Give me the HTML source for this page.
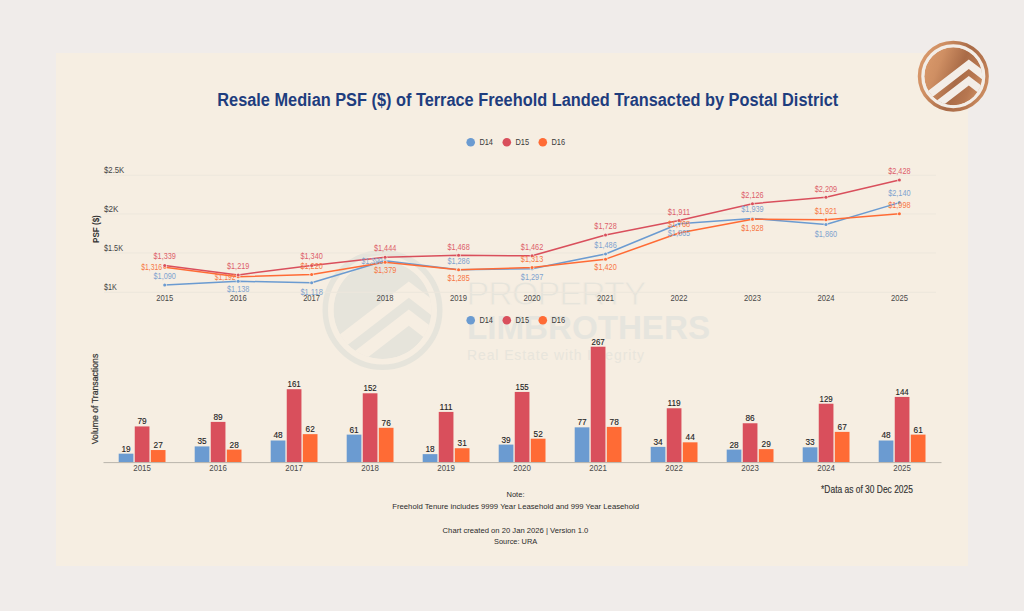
<!DOCTYPE html>
<html><head><meta charset="utf-8"><title>Resale Median PSF of Terrace Freehold Landed by Postal District</title>
<style>
html,body{margin:0;padding:0;background:#f0ecea;}
body{width:1024px;height:611px;overflow:hidden;font-family:"Liberation Sans",sans-serif;}
svg{display:block;}
svg text{font-family:"Liberation Sans",sans-serif;}
</style></head>
<body>
<svg width="1024" height="611" viewBox="0 0 1024 611">
<rect x="0" y="0" width="1024" height="611" fill="#f0ecea"/>
<rect x="56" y="53" width="912" height="513" fill="#f6eee2"/>
<g>
<circle cx="382.5" cy="310" r="57.25" fill="none" stroke="#e6e4db" stroke-width="5.5"/>
<clipPath id="wmc"><circle cx="382.5" cy="310" r="49"/></clipPath>
<g clip-path="url(#wmc)"><circle cx="382.5" cy="310" r="49" fill="#e6e4db"/>
<polygon fill="#f6eee2" points="307.1,359.8 408.8,281.5 510.5,359.8 510.5,376.1 408.8,297.8 307.1,376.1"/>
<polygon fill="#f6eee2" points="307.1,387.8 408.8,309.5 510.5,387.8 510.5,404.1 408.8,325.8 307.1,404.1"/>
</g>
<text x="466.5" y="305.4" font-size="34" fill="#e6e4db" stroke="#f6eee2" stroke-width="0.8" font-family="Liberation Sans, sans-serif" textLength="180" lengthAdjust="spacing">PROPERTY</text>
<text x="467" y="338.8" font-size="33.5" font-weight="bold" fill="#e6e5de" font-family="Liberation Sans, sans-serif" textLength="243" lengthAdjust="spacingAndGlyphs">LIMBROTHERS</text>
<text x="467" y="359.7" font-size="14" fill="#e8e5dc" font-family="Liberation Sans, sans-serif" textLength="177" lengthAdjust="spacing">Real Estate with Integrity</text>
</g>
<text x="527.8" y="105.9" font-size="17.6" font-weight="bold" fill="#1e3d7e" text-anchor="middle" font-family="Liberation Sans, sans-serif" textLength="621" lengthAdjust="spacingAndGlyphs">Resale Median PSF ($) of Terrace Freehold Landed Transacted by Postal District</text>
<circle cx="470.7" cy="142.2" r="4.3" fill="#6b9bd1"/>
<text x="479.40" y="144.68" font-size="8.6" fill="#3a3a3a" text-anchor="start" textLength="13.60" lengthAdjust="spacingAndGlyphs" font-family="Liberation Sans, sans-serif">D14</text>
<circle cx="506.8" cy="142.2" r="4.3" fill="#d94f5c"/>
<text x="515.50" y="144.68" font-size="8.6" fill="#3a3a3a" text-anchor="start" textLength="13.60" lengthAdjust="spacingAndGlyphs" font-family="Liberation Sans, sans-serif">D15</text>
<circle cx="542.8" cy="142.2" r="4.3" fill="#ff6b35"/>
<text x="551.50" y="144.68" font-size="8.6" fill="#3a3a3a" text-anchor="start" textLength="13.60" lengthAdjust="spacingAndGlyphs" font-family="Liberation Sans, sans-serif">D16</text>
<circle cx="470.7" cy="320.2" r="4.3" fill="#6b9bd1"/>
<text x="479.40" y="322.68" font-size="8.6" fill="#3a3a3a" text-anchor="start" textLength="13.60" lengthAdjust="spacingAndGlyphs" font-family="Liberation Sans, sans-serif">D14</text>
<circle cx="506.8" cy="320.2" r="4.3" fill="#d94f5c"/>
<text x="515.50" y="322.68" font-size="8.6" fill="#3a3a3a" text-anchor="start" textLength="13.60" lengthAdjust="spacingAndGlyphs" font-family="Liberation Sans, sans-serif">D15</text>
<circle cx="542.8" cy="320.2" r="4.3" fill="#ff6b35"/>
<text x="551.50" y="322.68" font-size="8.6" fill="#3a3a3a" text-anchor="start" textLength="13.60" lengthAdjust="spacingAndGlyphs" font-family="Liberation Sans, sans-serif">D16</text>
<line x1="104" x2="936" y1="175.20" y2="175.20" stroke="#ede7dc" stroke-width="1"/>
<text x="104.00" y="173.35" font-size="8.8" fill="#444" text-anchor="start" textLength="20.30" lengthAdjust="spacingAndGlyphs" font-family="Liberation Sans, sans-serif">$2.5K</text>
<line x1="104" x2="936" y1="214.00" y2="214.00" stroke="#ede7dc" stroke-width="1"/>
<text x="104.00" y="212.25" font-size="8.8" fill="#444" text-anchor="start" textLength="14.40" lengthAdjust="spacingAndGlyphs" font-family="Liberation Sans, sans-serif">$2K</text>
<line x1="104" x2="936" y1="253.00" y2="253.00" stroke="#ede7dc" stroke-width="1"/>
<text x="104.00" y="251.35" font-size="8.8" fill="#444" text-anchor="start" textLength="19.00" lengthAdjust="spacingAndGlyphs" font-family="Liberation Sans, sans-serif">$1.5K</text>
<line x1="104" x2="936" y1="292.30" y2="292.30" stroke="#ede7dc" stroke-width="1"/>
<text x="104.00" y="290.45" font-size="8.8" fill="#444" text-anchor="start" textLength="12.80" lengthAdjust="spacingAndGlyphs" font-family="Liberation Sans, sans-serif">$1K</text>
<text transform="translate(98.5,229.1) rotate(-90)" font-size="8.4" font-weight="bold" fill="#333" text-anchor="middle" font-family="Liberation Sans, sans-serif" textLength="27.8" lengthAdjust="spacingAndGlyphs">PSF ($)</text>
<text x="164.70" y="300.84" font-size="8.5" fill="#4a4a4a" text-anchor="middle" textLength="17.00" lengthAdjust="spacingAndGlyphs" font-family="Liberation Sans, sans-serif">2015</text>
<text x="238.17" y="300.84" font-size="8.5" fill="#4a4a4a" text-anchor="middle" textLength="17.00" lengthAdjust="spacingAndGlyphs" font-family="Liberation Sans, sans-serif">2016</text>
<text x="311.64" y="300.84" font-size="8.5" fill="#4a4a4a" text-anchor="middle" textLength="17.00" lengthAdjust="spacingAndGlyphs" font-family="Liberation Sans, sans-serif">2017</text>
<text x="385.11" y="300.84" font-size="8.5" fill="#4a4a4a" text-anchor="middle" textLength="17.00" lengthAdjust="spacingAndGlyphs" font-family="Liberation Sans, sans-serif">2018</text>
<text x="458.58" y="300.84" font-size="8.5" fill="#4a4a4a" text-anchor="middle" textLength="17.00" lengthAdjust="spacingAndGlyphs" font-family="Liberation Sans, sans-serif">2019</text>
<text x="532.05" y="300.84" font-size="8.5" fill="#4a4a4a" text-anchor="middle" textLength="17.00" lengthAdjust="spacingAndGlyphs" font-family="Liberation Sans, sans-serif">2020</text>
<text x="605.52" y="300.84" font-size="8.5" fill="#4a4a4a" text-anchor="middle" textLength="17.00" lengthAdjust="spacingAndGlyphs" font-family="Liberation Sans, sans-serif">2021</text>
<text x="678.99" y="300.84" font-size="8.5" fill="#4a4a4a" text-anchor="middle" textLength="17.00" lengthAdjust="spacingAndGlyphs" font-family="Liberation Sans, sans-serif">2022</text>
<text x="752.46" y="300.84" font-size="8.5" fill="#4a4a4a" text-anchor="middle" textLength="17.00" lengthAdjust="spacingAndGlyphs" font-family="Liberation Sans, sans-serif">2023</text>
<text x="825.93" y="300.84" font-size="8.5" fill="#4a4a4a" text-anchor="middle" textLength="17.00" lengthAdjust="spacingAndGlyphs" font-family="Liberation Sans, sans-serif">2024</text>
<text x="899.40" y="300.84" font-size="8.5" fill="#4a4a4a" text-anchor="middle" textLength="17.00" lengthAdjust="spacingAndGlyphs" font-family="Liberation Sans, sans-serif">2025</text>
<polyline points="164.70,285.04 238.17,281.27 311.64,282.84 385.11,260.78 458.58,269.65 532.05,268.79 605.52,253.95 678.99,223.81 752.46,218.39 825.93,224.59 899.40,202.61" fill="none" stroke="#6b9bd1" stroke-width="1.5" stroke-linejoin="round" stroke-linecap="round"/>
<polyline points="164.70,267.29 238.17,276.71 311.64,274.52 385.11,262.35 458.58,269.73 532.05,267.53 605.52,259.13 678.99,233.07 752.46,219.25 825.93,219.80 899.40,213.76" fill="none" stroke="#ff6b35" stroke-width="1.5" stroke-linejoin="round" stroke-linecap="round"/>
<polyline points="164.70,265.49 238.17,274.91 311.64,265.41 385.11,257.25 458.58,255.36 532.05,255.83 605.52,234.95 678.99,220.59 752.46,203.71 825.93,197.19 899.40,180.00" fill="none" stroke="#d94f5c" stroke-width="1.5" stroke-linejoin="round" stroke-linecap="round"/>
<circle cx="164.70" cy="285.04" r="2.3" fill="#f6eee2" opacity="0.8"/><circle cx="164.70" cy="285.04" r="1.5" fill="#6b9bd1"/>
<circle cx="238.17" cy="281.27" r="2.3" fill="#f6eee2" opacity="0.8"/><circle cx="238.17" cy="281.27" r="1.5" fill="#6b9bd1"/>
<circle cx="311.64" cy="282.84" r="2.3" fill="#f6eee2" opacity="0.8"/><circle cx="311.64" cy="282.84" r="1.5" fill="#6b9bd1"/>
<circle cx="385.11" cy="260.78" r="2.3" fill="#f6eee2" opacity="0.8"/><circle cx="385.11" cy="260.78" r="1.5" fill="#6b9bd1"/>
<circle cx="458.58" cy="269.65" r="2.3" fill="#f6eee2" opacity="0.8"/><circle cx="458.58" cy="269.65" r="1.5" fill="#6b9bd1"/>
<circle cx="532.05" cy="268.79" r="2.3" fill="#f6eee2" opacity="0.8"/><circle cx="532.05" cy="268.79" r="1.5" fill="#6b9bd1"/>
<circle cx="605.52" cy="253.95" r="2.3" fill="#f6eee2" opacity="0.8"/><circle cx="605.52" cy="253.95" r="1.5" fill="#6b9bd1"/>
<circle cx="678.99" cy="223.81" r="2.3" fill="#f6eee2" opacity="0.8"/><circle cx="678.99" cy="223.81" r="1.5" fill="#6b9bd1"/>
<circle cx="752.46" cy="218.39" r="2.3" fill="#f6eee2" opacity="0.8"/><circle cx="752.46" cy="218.39" r="1.5" fill="#6b9bd1"/>
<circle cx="825.93" cy="224.59" r="2.3" fill="#f6eee2" opacity="0.8"/><circle cx="825.93" cy="224.59" r="1.5" fill="#6b9bd1"/>
<circle cx="899.40" cy="202.61" r="2.3" fill="#f6eee2" opacity="0.8"/><circle cx="899.40" cy="202.61" r="1.5" fill="#6b9bd1"/>
<circle cx="164.70" cy="267.29" r="2.3" fill="#f6eee2" opacity="0.8"/><circle cx="164.70" cy="267.29" r="1.5" fill="#ff6b35"/>
<circle cx="238.17" cy="276.71" r="2.3" fill="#f6eee2" opacity="0.8"/><circle cx="238.17" cy="276.71" r="1.5" fill="#ff6b35"/>
<circle cx="311.64" cy="274.52" r="2.3" fill="#f6eee2" opacity="0.8"/><circle cx="311.64" cy="274.52" r="1.5" fill="#ff6b35"/>
<circle cx="385.11" cy="262.35" r="2.3" fill="#f6eee2" opacity="0.8"/><circle cx="385.11" cy="262.35" r="1.5" fill="#ff6b35"/>
<circle cx="458.58" cy="269.73" r="2.3" fill="#f6eee2" opacity="0.8"/><circle cx="458.58" cy="269.73" r="1.5" fill="#ff6b35"/>
<circle cx="532.05" cy="267.53" r="2.3" fill="#f6eee2" opacity="0.8"/><circle cx="532.05" cy="267.53" r="1.5" fill="#ff6b35"/>
<circle cx="605.52" cy="259.13" r="2.3" fill="#f6eee2" opacity="0.8"/><circle cx="605.52" cy="259.13" r="1.5" fill="#ff6b35"/>
<circle cx="678.99" cy="233.07" r="2.3" fill="#f6eee2" opacity="0.8"/><circle cx="678.99" cy="233.07" r="1.5" fill="#ff6b35"/>
<circle cx="752.46" cy="219.25" r="2.3" fill="#f6eee2" opacity="0.8"/><circle cx="752.46" cy="219.25" r="1.5" fill="#ff6b35"/>
<circle cx="825.93" cy="219.80" r="2.3" fill="#f6eee2" opacity="0.8"/><circle cx="825.93" cy="219.80" r="1.5" fill="#ff6b35"/>
<circle cx="899.40" cy="213.76" r="2.3" fill="#f6eee2" opacity="0.8"/><circle cx="899.40" cy="213.76" r="1.5" fill="#ff6b35"/>
<circle cx="164.70" cy="265.49" r="2.3" fill="#f6eee2" opacity="0.8"/><circle cx="164.70" cy="265.49" r="1.5" fill="#d94f5c"/>
<circle cx="238.17" cy="274.91" r="2.3" fill="#f6eee2" opacity="0.8"/><circle cx="238.17" cy="274.91" r="1.5" fill="#d94f5c"/>
<circle cx="311.64" cy="265.41" r="2.3" fill="#f6eee2" opacity="0.8"/><circle cx="311.64" cy="265.41" r="1.5" fill="#d94f5c"/>
<circle cx="385.11" cy="257.25" r="2.3" fill="#f6eee2" opacity="0.8"/><circle cx="385.11" cy="257.25" r="1.5" fill="#d94f5c"/>
<circle cx="458.58" cy="255.36" r="2.3" fill="#f6eee2" opacity="0.8"/><circle cx="458.58" cy="255.36" r="1.5" fill="#d94f5c"/>
<circle cx="532.05" cy="255.83" r="2.3" fill="#f6eee2" opacity="0.8"/><circle cx="532.05" cy="255.83" r="1.5" fill="#d94f5c"/>
<circle cx="605.52" cy="234.95" r="2.3" fill="#f6eee2" opacity="0.8"/><circle cx="605.52" cy="234.95" r="1.5" fill="#d94f5c"/>
<circle cx="678.99" cy="220.59" r="2.3" fill="#f6eee2" opacity="0.8"/><circle cx="678.99" cy="220.59" r="1.5" fill="#d94f5c"/>
<circle cx="752.46" cy="203.71" r="2.3" fill="#f6eee2" opacity="0.8"/><circle cx="752.46" cy="203.71" r="1.5" fill="#d94f5c"/>
<circle cx="825.93" cy="197.19" r="2.3" fill="#f6eee2" opacity="0.8"/><circle cx="825.93" cy="197.19" r="1.5" fill="#d94f5c"/>
<circle cx="899.40" cy="180.00" r="2.3" fill="#f6eee2" opacity="0.8"/><circle cx="899.40" cy="180.00" r="1.5" fill="#d94f5c"/>
<text x="164.70" y="278.97" font-size="8.3" fill="#7fa3cf" text-anchor="middle" textLength="22.40" lengthAdjust="spacingAndGlyphs" font-family="Liberation Sans, sans-serif">$1,090</text>
<text x="238.17" y="291.67" font-size="8.3" fill="#7fa3cf" text-anchor="middle" textLength="22.40" lengthAdjust="spacingAndGlyphs" font-family="Liberation Sans, sans-serif">$1,138</text>
<text x="311.64" y="294.57" font-size="8.3" fill="#7fa3cf" text-anchor="middle" textLength="22.40" lengthAdjust="spacingAndGlyphs" font-family="Liberation Sans, sans-serif">$1,118</text>
<text x="382.51" y="263.57" font-size="8.3" fill="#7fa3cf" text-anchor="end" textLength="20.90" lengthAdjust="spacingAndGlyphs" font-family="Liberation Sans, sans-serif">$1,399</text>
<text x="458.58" y="263.87" font-size="8.3" fill="#7fa3cf" text-anchor="middle" textLength="22.40" lengthAdjust="spacingAndGlyphs" font-family="Liberation Sans, sans-serif">$1,286</text>
<text x="532.05" y="279.97" font-size="8.3" fill="#7fa3cf" text-anchor="middle" textLength="22.40" lengthAdjust="spacingAndGlyphs" font-family="Liberation Sans, sans-serif">$1,297</text>
<text x="605.52" y="248.17" font-size="8.3" fill="#7fa3cf" text-anchor="middle" textLength="22.40" lengthAdjust="spacingAndGlyphs" font-family="Liberation Sans, sans-serif">$1,486</text>
<text x="678.99" y="235.57" font-size="8.3" fill="#7fa3cf" text-anchor="middle" textLength="22.40" lengthAdjust="spacingAndGlyphs" font-family="Liberation Sans, sans-serif">$1,865</text>
<text x="752.46" y="212.37" font-size="8.3" fill="#7fa3cf" text-anchor="middle" textLength="22.40" lengthAdjust="spacingAndGlyphs" font-family="Liberation Sans, sans-serif">$1,939</text>
<text x="825.93" y="236.97" font-size="8.3" fill="#7fa3cf" text-anchor="middle" textLength="22.40" lengthAdjust="spacingAndGlyphs" font-family="Liberation Sans, sans-serif">$1,860</text>
<text x="899.40" y="196.47" font-size="8.3" fill="#7fa3cf" text-anchor="middle" textLength="22.40" lengthAdjust="spacingAndGlyphs" font-family="Liberation Sans, sans-serif">$2,140</text>
<text x="162.10" y="269.77" font-size="8.3" fill="#f77745" text-anchor="end" textLength="20.90" lengthAdjust="spacingAndGlyphs" font-family="Liberation Sans, sans-serif">$1,316</text>
<text x="235.57" y="279.97" font-size="8.3" fill="#f77745" text-anchor="end" textLength="20.90" lengthAdjust="spacingAndGlyphs" font-family="Liberation Sans, sans-serif">$1,192</text>
<text x="311.64" y="268.87" font-size="8.3" fill="#f77745" text-anchor="middle" textLength="22.40" lengthAdjust="spacingAndGlyphs" font-family="Liberation Sans, sans-serif">$1,220</text>
<text x="385.11" y="273.17" font-size="8.3" fill="#f77745" text-anchor="middle" textLength="22.40" lengthAdjust="spacingAndGlyphs" font-family="Liberation Sans, sans-serif">$1,379</text>
<text x="458.58" y="281.37" font-size="8.3" fill="#f77745" text-anchor="middle" textLength="22.40" lengthAdjust="spacingAndGlyphs" font-family="Liberation Sans, sans-serif">$1,285</text>
<text x="532.05" y="261.97" font-size="8.3" fill="#f77745" text-anchor="middle" textLength="22.40" lengthAdjust="spacingAndGlyphs" font-family="Liberation Sans, sans-serif">$1,313</text>
<text x="605.52" y="269.97" font-size="8.3" fill="#f77745" text-anchor="middle" textLength="22.40" lengthAdjust="spacingAndGlyphs" font-family="Liberation Sans, sans-serif">$1,420</text>
<text x="678.99" y="226.67" font-size="8.3" fill="#f77745" text-anchor="middle" textLength="22.40" lengthAdjust="spacingAndGlyphs" font-family="Liberation Sans, sans-serif">$1,768</text>
<text x="752.46" y="230.87" font-size="8.3" fill="#f77745" text-anchor="middle" textLength="22.40" lengthAdjust="spacingAndGlyphs" font-family="Liberation Sans, sans-serif">$1,928</text>
<text x="825.93" y="213.97" font-size="8.3" fill="#f77745" text-anchor="middle" textLength="22.40" lengthAdjust="spacingAndGlyphs" font-family="Liberation Sans, sans-serif">$1,921</text>
<text x="899.40" y="207.97" font-size="8.3" fill="#f77745" text-anchor="middle" textLength="22.40" lengthAdjust="spacingAndGlyphs" font-family="Liberation Sans, sans-serif">$1,998</text>
<text x="164.70" y="259.47" font-size="8.3" fill="#dd5f6b" text-anchor="middle" textLength="22.40" lengthAdjust="spacingAndGlyphs" font-family="Liberation Sans, sans-serif">$1,339</text>
<text x="238.17" y="268.67" font-size="8.3" fill="#dd5f6b" text-anchor="middle" textLength="22.40" lengthAdjust="spacingAndGlyphs" font-family="Liberation Sans, sans-serif">$1,219</text>
<text x="311.64" y="259.47" font-size="8.3" fill="#dd5f6b" text-anchor="middle" textLength="22.40" lengthAdjust="spacingAndGlyphs" font-family="Liberation Sans, sans-serif">$1,340</text>
<text x="385.11" y="251.37" font-size="8.3" fill="#dd5f6b" text-anchor="middle" textLength="22.40" lengthAdjust="spacingAndGlyphs" font-family="Liberation Sans, sans-serif">$1,444</text>
<text x="458.58" y="250.27" font-size="8.3" fill="#dd5f6b" text-anchor="middle" textLength="22.40" lengthAdjust="spacingAndGlyphs" font-family="Liberation Sans, sans-serif">$1,468</text>
<text x="532.05" y="250.27" font-size="8.3" fill="#dd5f6b" text-anchor="middle" textLength="22.40" lengthAdjust="spacingAndGlyphs" font-family="Liberation Sans, sans-serif">$1,462</text>
<text x="605.52" y="228.77" font-size="8.3" fill="#dd5f6b" text-anchor="middle" textLength="22.40" lengthAdjust="spacingAndGlyphs" font-family="Liberation Sans, sans-serif">$1,728</text>
<text x="678.99" y="214.67" font-size="8.3" fill="#dd5f6b" text-anchor="middle" textLength="22.40" lengthAdjust="spacingAndGlyphs" font-family="Liberation Sans, sans-serif">$1,911</text>
<text x="752.46" y="197.57" font-size="8.3" fill="#dd5f6b" text-anchor="middle" textLength="22.40" lengthAdjust="spacingAndGlyphs" font-family="Liberation Sans, sans-serif">$2,126</text>
<text x="825.93" y="191.67" font-size="8.3" fill="#dd5f6b" text-anchor="middle" textLength="22.40" lengthAdjust="spacingAndGlyphs" font-family="Liberation Sans, sans-serif">$2,209</text>
<text x="899.40" y="173.87" font-size="8.3" fill="#dd5f6b" text-anchor="middle" textLength="22.40" lengthAdjust="spacingAndGlyphs" font-family="Liberation Sans, sans-serif">$2,428</text>
<rect x="118.70" y="453.67" width="14.7" height="8.63" fill="#6b9bd1"/>
<text x="126.05" y="451.58" font-size="8.4" fill="#222" text-anchor="middle" textLength="9.20" lengthAdjust="spacingAndGlyphs" font-family="Liberation Sans, sans-serif" stroke="#222" stroke-width="0.12">19</text>
<rect x="134.75" y="426.43" width="14.7" height="35.87" fill="#d94f5c"/>
<text x="142.10" y="424.34" font-size="8.4" fill="#222" text-anchor="middle" textLength="9.20" lengthAdjust="spacingAndGlyphs" font-family="Liberation Sans, sans-serif" stroke="#222" stroke-width="0.12">79</text>
<rect x="150.80" y="450.04" width="14.7" height="12.26" fill="#ff6b35"/>
<text x="158.15" y="447.95" font-size="8.4" fill="#222" text-anchor="middle" textLength="9.20" lengthAdjust="spacingAndGlyphs" font-family="Liberation Sans, sans-serif" stroke="#222" stroke-width="0.12">27</text>
<text x="142.10" y="471.38" font-size="8.6" fill="#4a4a4a" text-anchor="middle" textLength="17.60" lengthAdjust="spacingAndGlyphs" font-family="Liberation Sans, sans-serif">2015</text>
<rect x="194.70" y="446.41" width="14.7" height="15.89" fill="#6b9bd1"/>
<text x="202.05" y="444.32" font-size="8.4" fill="#222" text-anchor="middle" textLength="9.20" lengthAdjust="spacingAndGlyphs" font-family="Liberation Sans, sans-serif" stroke="#222" stroke-width="0.12">35</text>
<rect x="210.75" y="421.89" width="14.7" height="40.41" fill="#d94f5c"/>
<text x="218.10" y="419.80" font-size="8.4" fill="#222" text-anchor="middle" textLength="9.20" lengthAdjust="spacingAndGlyphs" font-family="Liberation Sans, sans-serif" stroke="#222" stroke-width="0.12">89</text>
<rect x="226.80" y="449.59" width="14.7" height="12.71" fill="#ff6b35"/>
<text x="234.15" y="447.50" font-size="8.4" fill="#222" text-anchor="middle" textLength="9.20" lengthAdjust="spacingAndGlyphs" font-family="Liberation Sans, sans-serif" stroke="#222" stroke-width="0.12">28</text>
<text x="218.10" y="471.38" font-size="8.6" fill="#4a4a4a" text-anchor="middle" textLength="17.60" lengthAdjust="spacingAndGlyphs" font-family="Liberation Sans, sans-serif">2016</text>
<rect x="270.70" y="440.51" width="14.7" height="21.79" fill="#6b9bd1"/>
<text x="278.05" y="438.42" font-size="8.4" fill="#222" text-anchor="middle" textLength="9.20" lengthAdjust="spacingAndGlyphs" font-family="Liberation Sans, sans-serif" stroke="#222" stroke-width="0.12">48</text>
<rect x="286.75" y="389.21" width="14.7" height="73.09" fill="#d94f5c"/>
<text x="294.10" y="387.11" font-size="8.4" fill="#222" text-anchor="middle" textLength="13.20" lengthAdjust="spacingAndGlyphs" font-family="Liberation Sans, sans-serif" stroke="#222" stroke-width="0.12">161</text>
<rect x="302.80" y="434.15" width="14.7" height="28.15" fill="#ff6b35"/>
<text x="310.15" y="432.06" font-size="8.4" fill="#222" text-anchor="middle" textLength="9.20" lengthAdjust="spacingAndGlyphs" font-family="Liberation Sans, sans-serif" stroke="#222" stroke-width="0.12">62</text>
<text x="294.10" y="471.38" font-size="8.6" fill="#4a4a4a" text-anchor="middle" textLength="17.60" lengthAdjust="spacingAndGlyphs" font-family="Liberation Sans, sans-serif">2017</text>
<rect x="346.70" y="434.61" width="14.7" height="27.69" fill="#6b9bd1"/>
<text x="354.05" y="432.51" font-size="8.4" fill="#222" text-anchor="middle" textLength="9.20" lengthAdjust="spacingAndGlyphs" font-family="Liberation Sans, sans-serif" stroke="#222" stroke-width="0.12">61</text>
<rect x="362.75" y="393.29" width="14.7" height="69.01" fill="#d94f5c"/>
<text x="370.10" y="391.20" font-size="8.4" fill="#222" text-anchor="middle" textLength="13.20" lengthAdjust="spacingAndGlyphs" font-family="Liberation Sans, sans-serif" stroke="#222" stroke-width="0.12">152</text>
<rect x="378.80" y="427.80" width="14.7" height="34.50" fill="#ff6b35"/>
<text x="386.15" y="425.70" font-size="8.4" fill="#222" text-anchor="middle" textLength="9.20" lengthAdjust="spacingAndGlyphs" font-family="Liberation Sans, sans-serif" stroke="#222" stroke-width="0.12">76</text>
<text x="370.10" y="471.38" font-size="8.6" fill="#4a4a4a" text-anchor="middle" textLength="17.60" lengthAdjust="spacingAndGlyphs" font-family="Liberation Sans, sans-serif">2018</text>
<rect x="422.70" y="454.13" width="14.7" height="8.17" fill="#6b9bd1"/>
<text x="430.05" y="452.04" font-size="8.4" fill="#222" text-anchor="middle" textLength="9.20" lengthAdjust="spacingAndGlyphs" font-family="Liberation Sans, sans-serif" stroke="#222" stroke-width="0.12">18</text>
<rect x="438.75" y="411.91" width="14.7" height="50.39" fill="#d94f5c"/>
<text x="446.10" y="409.81" font-size="8.4" fill="#222" text-anchor="middle" textLength="13.20" lengthAdjust="spacingAndGlyphs" font-family="Liberation Sans, sans-serif" stroke="#222" stroke-width="0.12">111</text>
<rect x="454.80" y="448.23" width="14.7" height="14.07" fill="#ff6b35"/>
<text x="462.15" y="446.13" font-size="8.4" fill="#222" text-anchor="middle" textLength="9.20" lengthAdjust="spacingAndGlyphs" font-family="Liberation Sans, sans-serif" stroke="#222" stroke-width="0.12">31</text>
<text x="446.10" y="471.38" font-size="8.6" fill="#4a4a4a" text-anchor="middle" textLength="17.60" lengthAdjust="spacingAndGlyphs" font-family="Liberation Sans, sans-serif">2019</text>
<rect x="498.70" y="444.59" width="14.7" height="17.71" fill="#6b9bd1"/>
<text x="506.05" y="442.50" font-size="8.4" fill="#222" text-anchor="middle" textLength="9.20" lengthAdjust="spacingAndGlyphs" font-family="Liberation Sans, sans-serif" stroke="#222" stroke-width="0.12">39</text>
<rect x="514.75" y="391.93" width="14.7" height="70.37" fill="#d94f5c"/>
<text x="522.10" y="389.84" font-size="8.4" fill="#222" text-anchor="middle" textLength="13.20" lengthAdjust="spacingAndGlyphs" font-family="Liberation Sans, sans-serif" stroke="#222" stroke-width="0.12">155</text>
<rect x="530.80" y="438.69" width="14.7" height="23.61" fill="#ff6b35"/>
<text x="538.15" y="436.60" font-size="8.4" fill="#222" text-anchor="middle" textLength="9.20" lengthAdjust="spacingAndGlyphs" font-family="Liberation Sans, sans-serif" stroke="#222" stroke-width="0.12">52</text>
<text x="522.10" y="471.38" font-size="8.6" fill="#4a4a4a" text-anchor="middle" textLength="17.60" lengthAdjust="spacingAndGlyphs" font-family="Liberation Sans, sans-serif">2020</text>
<rect x="574.70" y="427.34" width="14.7" height="34.96" fill="#6b9bd1"/>
<text x="582.05" y="425.25" font-size="8.4" fill="#222" text-anchor="middle" textLength="9.20" lengthAdjust="spacingAndGlyphs" font-family="Liberation Sans, sans-serif" stroke="#222" stroke-width="0.12">77</text>
<rect x="590.75" y="346.70" width="14.7" height="115.60" fill="#d94f5c"/>
<text x="598.10" y="344.61" font-size="8.4" fill="#222" text-anchor="middle" textLength="13.20" lengthAdjust="spacingAndGlyphs" font-family="Liberation Sans, sans-serif" stroke="#222" stroke-width="0.12">267</text>
<rect x="606.80" y="426.89" width="14.7" height="35.41" fill="#ff6b35"/>
<text x="614.15" y="424.80" font-size="8.4" fill="#222" text-anchor="middle" textLength="9.20" lengthAdjust="spacingAndGlyphs" font-family="Liberation Sans, sans-serif" stroke="#222" stroke-width="0.12">78</text>
<text x="598.10" y="471.38" font-size="8.6" fill="#4a4a4a" text-anchor="middle" textLength="17.60" lengthAdjust="spacingAndGlyphs" font-family="Liberation Sans, sans-serif">2021</text>
<rect x="650.70" y="446.86" width="14.7" height="15.44" fill="#6b9bd1"/>
<text x="658.05" y="444.77" font-size="8.4" fill="#222" text-anchor="middle" textLength="9.20" lengthAdjust="spacingAndGlyphs" font-family="Liberation Sans, sans-serif" stroke="#222" stroke-width="0.12">34</text>
<rect x="666.75" y="408.27" width="14.7" height="54.03" fill="#d94f5c"/>
<text x="674.10" y="406.18" font-size="8.4" fill="#222" text-anchor="middle" textLength="13.20" lengthAdjust="spacingAndGlyphs" font-family="Liberation Sans, sans-serif" stroke="#222" stroke-width="0.12">119</text>
<rect x="682.80" y="442.32" width="14.7" height="19.98" fill="#ff6b35"/>
<text x="690.15" y="440.23" font-size="8.4" fill="#222" text-anchor="middle" textLength="9.20" lengthAdjust="spacingAndGlyphs" font-family="Liberation Sans, sans-serif" stroke="#222" stroke-width="0.12">44</text>
<text x="674.10" y="471.38" font-size="8.6" fill="#4a4a4a" text-anchor="middle" textLength="17.60" lengthAdjust="spacingAndGlyphs" font-family="Liberation Sans, sans-serif">2022</text>
<rect x="726.70" y="449.59" width="14.7" height="12.71" fill="#6b9bd1"/>
<text x="734.05" y="447.50" font-size="8.4" fill="#222" text-anchor="middle" textLength="9.20" lengthAdjust="spacingAndGlyphs" font-family="Liberation Sans, sans-serif" stroke="#222" stroke-width="0.12">28</text>
<rect x="742.75" y="423.26" width="14.7" height="39.04" fill="#d94f5c"/>
<text x="750.10" y="421.16" font-size="8.4" fill="#222" text-anchor="middle" textLength="9.20" lengthAdjust="spacingAndGlyphs" font-family="Liberation Sans, sans-serif" stroke="#222" stroke-width="0.12">86</text>
<rect x="758.80" y="449.13" width="14.7" height="13.17" fill="#ff6b35"/>
<text x="766.15" y="447.04" font-size="8.4" fill="#222" text-anchor="middle" textLength="9.20" lengthAdjust="spacingAndGlyphs" font-family="Liberation Sans, sans-serif" stroke="#222" stroke-width="0.12">29</text>
<text x="750.10" y="471.38" font-size="8.6" fill="#4a4a4a" text-anchor="middle" textLength="17.60" lengthAdjust="spacingAndGlyphs" font-family="Liberation Sans, sans-serif">2023</text>
<rect x="802.70" y="447.32" width="14.7" height="14.98" fill="#6b9bd1"/>
<text x="810.05" y="445.23" font-size="8.4" fill="#222" text-anchor="middle" textLength="9.20" lengthAdjust="spacingAndGlyphs" font-family="Liberation Sans, sans-serif" stroke="#222" stroke-width="0.12">33</text>
<rect x="818.75" y="403.73" width="14.7" height="58.57" fill="#d94f5c"/>
<text x="826.10" y="401.64" font-size="8.4" fill="#222" text-anchor="middle" textLength="13.20" lengthAdjust="spacingAndGlyphs" font-family="Liberation Sans, sans-serif" stroke="#222" stroke-width="0.12">129</text>
<rect x="834.80" y="431.88" width="14.7" height="30.42" fill="#ff6b35"/>
<text x="842.15" y="429.79" font-size="8.4" fill="#222" text-anchor="middle" textLength="9.20" lengthAdjust="spacingAndGlyphs" font-family="Liberation Sans, sans-serif" stroke="#222" stroke-width="0.12">67</text>
<text x="826.10" y="471.38" font-size="8.6" fill="#4a4a4a" text-anchor="middle" textLength="17.60" lengthAdjust="spacingAndGlyphs" font-family="Liberation Sans, sans-serif">2024</text>
<rect x="878.70" y="440.51" width="14.7" height="21.79" fill="#6b9bd1"/>
<text x="886.05" y="438.42" font-size="8.4" fill="#222" text-anchor="middle" textLength="9.20" lengthAdjust="spacingAndGlyphs" font-family="Liberation Sans, sans-serif" stroke="#222" stroke-width="0.12">48</text>
<rect x="894.75" y="396.92" width="14.7" height="65.38" fill="#d94f5c"/>
<text x="902.10" y="394.83" font-size="8.4" fill="#222" text-anchor="middle" textLength="13.20" lengthAdjust="spacingAndGlyphs" font-family="Liberation Sans, sans-serif" stroke="#222" stroke-width="0.12">144</text>
<rect x="910.80" y="434.61" width="14.7" height="27.69" fill="#ff6b35"/>
<text x="918.15" y="432.51" font-size="8.4" fill="#222" text-anchor="middle" textLength="9.20" lengthAdjust="spacingAndGlyphs" font-family="Liberation Sans, sans-serif" stroke="#222" stroke-width="0.12">61</text>
<text x="902.10" y="471.38" font-size="8.6" fill="#4a4a4a" text-anchor="middle" textLength="17.60" lengthAdjust="spacingAndGlyphs" font-family="Liberation Sans, sans-serif">2025</text>
<line x1="103.5" x2="941.5" y1="462.6" y2="462.6" stroke="#b9b4ac" stroke-width="1"/>
<text transform="translate(98.1,399) rotate(-90)" font-size="8.6" fill="#333" stroke="#333" stroke-width="0.2" text-anchor="middle" font-family="Liberation Sans, sans-serif" textLength="90.5" lengthAdjust="spacingAndGlyphs">Volume of Transactions</text>
<text x="867.00" y="492.95" font-size="10.2" fill="#333" text-anchor="middle" textLength="91.80" lengthAdjust="spacingAndGlyphs" font-family="Liberation Sans, sans-serif" stroke="#333" stroke-width="0.15">*Data as of 30 Dec 2025</text>
<text x="515.50" y="496.99" font-size="7.8" fill="#2b2b2b" text-anchor="middle" textLength="18.00" lengthAdjust="spacingAndGlyphs" font-family="Liberation Sans, sans-serif">Note:</text>
<text x="515.60" y="508.79" font-size="7.8" fill="#2b2b2b" text-anchor="middle" textLength="246.70" lengthAdjust="spacingAndGlyphs" font-family="Liberation Sans, sans-serif">Freehold Tenure includes 9999 Year Leasehold and 999 Year Leasehold</text>
<text x="515.50" y="533.39" font-size="7.8" fill="#2b2b2b" text-anchor="middle" textLength="145.80" lengthAdjust="spacingAndGlyphs" font-family="Liberation Sans, sans-serif">Chart created on 20 Jan 2026 | Version 1.0</text>
<text x="515.60" y="544.29" font-size="7.8" fill="#2b2b2b" text-anchor="middle" textLength="43.20" lengthAdjust="spacingAndGlyphs" font-family="Liberation Sans, sans-serif">Source: URA</text>
<defs><linearGradient id="brz" x1="0" y1="0.2" x2="1" y2="0.6">
<stop offset="0" stop-color="#d9996b"/><stop offset="0.25" stop-color="#cf8f63"/>
<stop offset="0.6" stop-color="#a96b47"/><stop offset="0.85" stop-color="#b77750"/><stop offset="1" stop-color="#c98a5f"/></linearGradient>
<clipPath id="lgc"><circle cx="953.3" cy="76.2" r="29"/></clipPath></defs>
<circle cx="953.3" cy="76.2" r="35.6" fill="#f3ede7"/>
<circle cx="953.3" cy="76.2" r="33.8" fill="none" stroke="url(#brz)" stroke-width="3.5"/>
<g clip-path="url(#lgc)"><circle cx="953.3" cy="76.2" r="29" fill="url(#brz)"/>
<polygon fill="#f3ede7" points="908.8,105.6 968.8,59.4 1028.8,105.6 1028.8,115.2 968.8,69.0 908.8,115.2"/>
<polygon fill="#f3ede7" points="908.8,122.1 968.8,75.9 1028.8,122.1 1028.8,131.7 968.8,85.5 908.8,131.7"/>
</g>
</svg>
</body></html>
